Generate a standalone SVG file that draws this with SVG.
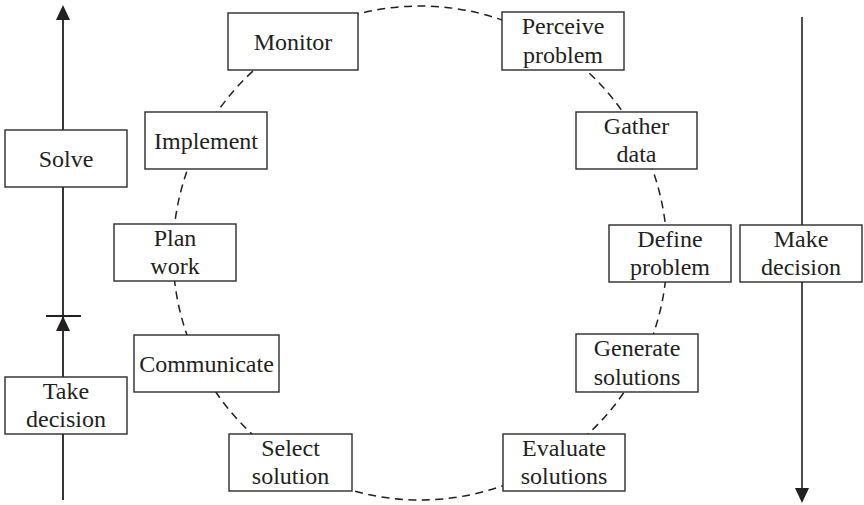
<svg xmlns="http://www.w3.org/2000/svg" width="864" height="505" viewBox="0 0 864 505">
  <style>
    .box { fill: #ffffff; stroke: #2b2b2b; stroke-width: 1.4; }
    .lbl { font-family: "Liberation Serif", "Times New Roman", serif; font-size: 24px; fill: #231f20; text-anchor: middle; }
    .cycle { fill: none; stroke: #231f20; stroke-width: 1.5; stroke-dasharray: 8 5.5; }
    .axis { fill: none; stroke: #231f20; stroke-width: 1.8; }
    .head { fill: #231f20; }
  </style>

  <rect width="864" height="505" fill="#ffffff"/>

  <g id="connectors">
    <!-- dashed process cycle -->
    <circle class="cycle" cx="420" cy="253" r="247"/>
    <!-- left axis: take decision, then solve -->
    <line class="axis" x1="63" y1="500" x2="63" y2="18"/>
    <polygon class="head" points="63,5 56,20 70,20"/>
    <polygon class="head" points="63,316 56,331 70,331"/>
    <line class="axis" x1="46" y1="316" x2="81" y2="316"/>
    <!-- right axis: make decision -->
    <line class="axis" x1="802" y1="17" x2="802" y2="490" style="stroke-width:1.6"/>
    <polygon class="head" points="802,503 795,488 809,488"/>
  </g>

  <g id="monitor">
    <rect class="box" x="228" y="13" width="130" height="57"/>
    <text class="lbl" x="293" y="50">Monitor</text>
  </g>
  <g id="perceive-problem">
    <rect class="box" x="502" y="12" width="122" height="58"/>
    <text class="lbl" x="563" y="34">Perceive</text>
    <text class="lbl" x="563" y="62.5">problem</text>
  </g>
  <g id="implement">
    <rect class="box" x="145" y="112" width="122" height="57"/>
    <text class="lbl" x="206" y="149">Implement</text>
  </g>
  <g id="gather-data">
    <rect class="box" x="576" y="112" width="121" height="57"/>
    <text class="lbl" x="636.5" y="133.5">Gather</text>
    <text class="lbl" x="636.5" y="162">data</text>
  </g>
  <g id="solve">
    <rect class="box" x="5" y="130" width="122" height="57"/>
    <text class="lbl" x="66" y="167">Solve</text>
  </g>
  <g id="plan-work">
    <rect class="box" x="114" y="224" width="122" height="57"/>
    <text class="lbl" x="175" y="245.5">Plan</text>
    <text class="lbl" x="175" y="274">work</text>
  </g>
  <g id="define-problem">
    <rect class="box" x="609" y="225" width="122" height="57"/>
    <text class="lbl" x="670" y="246.5">Define</text>
    <text class="lbl" x="670" y="275">problem</text>
  </g>
  <g id="make-decision">
    <rect class="box" x="740" y="225" width="122" height="57"/>
    <text class="lbl" x="801" y="246.5">Make</text>
    <text class="lbl" x="801" y="275">decision</text>
  </g>
  <g id="communicate">
    <rect class="box" x="134" y="335" width="145" height="57"/>
    <text class="lbl" x="206.5" y="372">Communicate</text>
  </g>
  <g id="generate-solutions">
    <rect class="box" x="576" y="334" width="122" height="58"/>
    <text class="lbl" x="637" y="356">Generate</text>
    <text class="lbl" x="637" y="385">solutions</text>
  </g>
  <g id="take-decision">
    <rect class="box" x="5" y="377" width="122" height="57"/>
    <text class="lbl" x="66" y="398.5">Take</text>
    <text class="lbl" x="66" y="427">decision</text>
  </g>
  <g id="select-solution">
    <rect class="box" x="229" y="434" width="123" height="57"/>
    <text class="lbl" x="290.5" y="455.5">Select</text>
    <text class="lbl" x="290.5" y="484">solution</text>
  </g>
  <g id="evaluate-solutions">
    <rect class="box" x="503" y="434" width="122" height="57"/>
    <text class="lbl" x="564" y="455.5">Evaluate</text>
    <text class="lbl" x="564" y="484">solutions</text>
  </g>
</svg>
